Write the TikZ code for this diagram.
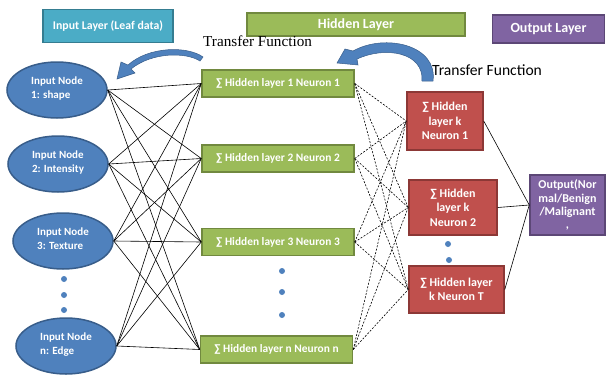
\documentclass[tikz,border=0pt]{standalone}
\usepackage{fontspec}
\setmainfont{Carlito}
\newfontfamily\serifTF{Liberation Serif}
\usetikzlibrary{shapes.geometric}
\definecolor{tealF}{HTML}{4BACC6}\definecolor{tealD}{HTML}{357D91}
\definecolor{grnF}{HTML}{9BBB59}\definecolor{grnD}{HTML}{71893F}
\definecolor{redF}{HTML}{C0504D}\definecolor{redD}{HTML}{8C3836}
\definecolor{purF}{HTML}{8064A2}\definecolor{purD}{HTML}{5C4776}
\definecolor{bluF}{HTML}{4F81BD}\definecolor{bluD}{HTML}{385D8A}
\begin{document}
\begin{tikzpicture}[x=1pt,y=-1pt,
 hdr/.style={rectangle, line width=1.8pt, text=white, font=\bfseries\fontsize{14}{16}\selectfont, inner sep=0pt},
 inp/.style={ellipse, draw=bluD, line width=1.5pt, fill=bluF, text=white, minimum width=100pt, minimum height=56pt, inner sep=0pt, align=left, font=\bfseries\fontsize{11}{13.5}\selectfont},
 hid/.style={rectangle, draw=grnD, fill=grnF, line width=1.5pt, minimum width=152pt, minimum height=27pt, inner sep=0pt, text=white, font=\bfseries\fontsize{11.4}{13}\selectfont},
 kbox/.style={rectangle, draw=redD, fill=redF, line width=1.5pt, inner sep=0pt, text=white, align=center, font=\bfseries\fontsize{12}{14.5}\selectfont},
 obox/.style={rectangle, draw=purD, fill=purF, line width=1.5pt, inner sep=0pt, text=white, align=center, font=\bfseries\fontsize{12}{13.2}\selectfont},
 dotn/.style={circle, fill=bluF, inner sep=0pt, minimum size=6pt},
 conn/.style={line width=0.6pt, black},
 dconn/.style={line width=0.6pt, black, dash pattern=on 2pt off 1.5pt},
 bigarrow/.style={fill=bluF, draw=bluD, line width=0.5pt},
 tflabel/.style={anchor=base west, inner sep=0pt, text=black},
]
\useasboundingbox (0,0) rectangle (606,376);

% headers
\node[hdr, draw=tealD, fill=tealF, minimum width=130pt, minimum height=33pt, font=\bfseries\fontsize{11.8}{14}\selectfont] (hin) at (108,26) {Input Layer (Leaf data)};
\node[hdr, draw=grnD, fill=grnF, minimum width=218pt, minimum height=23pt] (hhid) at (356,24.5) {Hidden Layer};
\node[hdr, draw=purD, fill=purF, minimum width=112pt, minimum height=28pt] (hout) at (548.5,29) {Output Layer};

% transfer function labels
\node[tflabel, font=\serifTF\fontsize{15.2}{17}\selectfont] (tf1) at (203,46) {Transfer Function};
\node[tflabel, font=\fontsize{15.6}{17}\selectfont] (tf2) at (432,75) {Transfer Function};

% input nodes
\node[inp] (i1) at (57,90) {Input Node\\1: shape\rule[-5pt]{0pt}{0pt}};
\node[inp] (i2) at (58,164) {Input Node\\2: Intensity\rule[-5pt]{0pt}{0pt}};
\node[inp] (i3) at (63,241) {Input Node\\3: Texture\rule[-5pt]{0pt}{0pt}};
\node[inp] (in) at (66,346) {Input Node\\n: Edge\rule[-5pt]{0pt}{0pt}};
\node[dotn] (di1) at (64,279) {};
\node[dotn] (di2) at (64,295) {};
\node[dotn] (di3) at (64,310) {};

% hidden layer nodes
\node[hid] (h1) at (278,83.5) {∑ Hidden layer 1 Neuron 1};
\node[hid] (h2) at (278,158.5) {∑ Hidden layer 2 Neuron 2};
\node[hid] (h3) at (278,242) {∑ Hidden layer 3 Neuron 3};
\node[hid] (hn) at (276.5,349.5) {∑ Hidden layer n Neuron n};
\node[dotn] (dh1) at (282,271) {};
\node[dotn] (dh2) at (282,292) {};
\node[dotn] (dh3) at (282,315) {};

% hidden layer k nodes
\node[kbox, minimum width=76pt, minimum height=58pt] (k1) at (445,121) {∑ Hidden\\layer k\\Neuron 1};
\node[kbox, minimum width=88pt, minimum height=55pt] (k2) at (453,207.5) {∑ Hidden\\layer k\\Neuron 2};
\node[kbox, minimum width=95pt, minimum height=47pt] (kt) at (456.5,289.5) {∑ Hidden layer\\k Neuron T};
\node[dotn] (dk1) at (448,244) {};
\node[dotn] (dk2) at (449,260) {};

% output
\node[obox, minimum width=75pt, minimum height=60pt] (out) at (567.5,205) {Output(Nor\\mal/Benign\\/Malignant\\,};

% input -> hidden
\foreach \a in {i1,i2,i3,in}{
  \foreach \b in {h1,h2,h3,hn}{
    \draw[conn] (\a.east) -- (\b.west);
  }
}
% hidden -> hidden k
\foreach \a in {h1,h2,h3,hn}{
  \foreach \b in {k1,k2,kt}{
    \draw[dconn] (\a.east) -- (\b.west);
  }
}
% hidden k -> output
\foreach \a in {k1,k2,kt}{
  \draw[conn] (\a.east) -- (out.west);
}

% curved block arrows
\draw[bigarrow] (203,57) .. controls (188,46) and (149,46) .. (128,65) -- (121,62) -- (117,79) -- (135,73) -- (131,69) .. controls (152,52) and (186,52) .. (200,61) -- cycle;
\draw[bigarrow] (433,81) .. controls (438,45) and (385,33) .. (353,51) -- (345,49) -- (337,63) -- (358,65) -- (357,59) .. controls (385,46) and (424,52) .. (422,81) -- cycle;
\end{tikzpicture}
\end{document}
